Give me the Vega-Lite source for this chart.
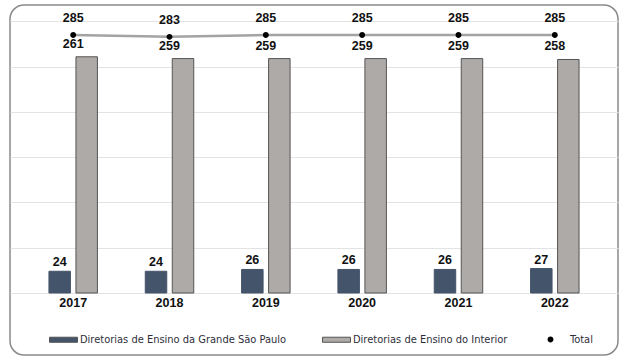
{
  "$schema": "https://vega.github.io/schema/vega-lite/v6.json",
  "width": 608,
  "height": 350,
  "autosize": "none",
  "padding": {"left": 10, "top": 5, "right": 10, "bottom": 8},
  "background": "white",
  "config": {
    "view": {"stroke": "#8a8a8a", "strokeWidth": 1.5, "cornerRadius": 14},
    "font": "Liberation Sans, sans-serif"
  },
  "data": {
    "values": [
      {"ano": "2017", "serie": "Diretorias de Ensino da Grande São Paulo", "valor": 24},
      {"ano": "2018", "serie": "Diretorias de Ensino da Grande São Paulo", "valor": 24},
      {"ano": "2019", "serie": "Diretorias de Ensino da Grande São Paulo", "valor": 26},
      {"ano": "2020", "serie": "Diretorias de Ensino da Grande São Paulo", "valor": 26},
      {"ano": "2021", "serie": "Diretorias de Ensino da Grande São Paulo", "valor": 26},
      {"ano": "2022", "serie": "Diretorias de Ensino da Grande São Paulo", "valor": 27},
      {"ano": "2017", "serie": "Diretorias de Ensino do Interior", "valor": 261},
      {"ano": "2018", "serie": "Diretorias de Ensino do Interior", "valor": 259},
      {"ano": "2019", "serie": "Diretorias de Ensino do Interior", "valor": 259},
      {"ano": "2020", "serie": "Diretorias de Ensino do Interior", "valor": 259},
      {"ano": "2021", "serie": "Diretorias de Ensino do Interior", "valor": 259},
      {"ano": "2022", "serie": "Diretorias de Ensino do Interior", "valor": 258},
      {"ano": "2017", "serie": "Total", "valor": 285},
      {"ano": "2018", "serie": "Total", "valor": 283},
      {"ano": "2019", "serie": "Total", "valor": 285},
      {"ano": "2020", "serie": "Total", "valor": 285},
      {"ano": "2021", "serie": "Total", "valor": 285},
      {"ano": "2022", "serie": "Total", "valor": 285}
    ]
  },
  "encoding": {
    "x": {
      "field": "ano",
      "type": "nominal",
      "sort": null,
      "scale": {"paddingInner": 0, "paddingOuter": 0.156},
      "axis": {
        "title": null,
        "orient": "bottom",
        "offset": -62,
        "domain": false,
        "ticks": false,
        "labelAngle": 0,
        "labelFont": "Liberation Sans",
        "labelFontSize": 12.5,
        "labelFontWeight": "bold",
        "labelColor": "#111111",
        "labelPadding": 3
      }
    },
    "y": {
      "field": "valor",
      "type": "quantitative",
      "scale": {"domain": [-68.5, 318.2], "nice": false, "zero": false},
      "axis": {
        "title": null,
        "values": [0, 50, 100, 150, 200, 250, 300],
        "grid": true,
        "gridColor": "#e3e3e3",
        "gridWidth": 1,
        "domain": false,
        "ticks": false,
        "labels": false
      }
    }
  },
  "layer": [
    {
      "transform": [{"filter": "datum.serie !== 'Total'"}],
      "mark": {"type": "bar", "strokeWidth": 1},
      "encoding": {
        "xOffset": {
          "field": "serie",
          "type": "nominal",
          "scale": {"paddingInner": 0.204, "paddingOuter": 0.886}
        },
        "color": {
          "field": "serie",
          "type": "nominal",
          "scale": {
            "domain": ["Diretorias de Ensino da Grande São Paulo", "Diretorias de Ensino do Interior"],
            "range": ["#44546a", "#aeaaa7"]
          },
          "legend": {
            "orient": "none",
            "legendX": 39,
            "legendY": 320,
            "direction": "horizontal",
            "columns": 2,
            "title": null,
            "padding": 0,
            "symbolType": "M-1,-0.18H1V0.18H-1Z",
            "symbolSize": 784,
            "symbolStrokeColor": "#555555",
            "symbolStrokeWidth": 1,
            "columnPadding": 33,
            "labelOffset": 2,
            "labelFont": "DejaVu Sans Condensed",
            "labelFontSize": 11,
            "labelColor": "#2e2e3a",
            "labelLimit": 400
          }
        },
        "stroke": {
          "condition": {"test": "datum.serie === 'Diretorias de Ensino do Interior'", "value": "#555555"},
          "value": "#44546a"
        }
      }
    },
    {
      "transform": [{"filter": "datum.serie === 'Diretorias de Ensino da Grande São Paulo'"}],
      "mark": {"type": "text", "baseline": "alphabetic", "dy": -5, "fontSize": 12.5, "fontWeight": "bold", "color": "#111111"},
      "encoding": {
        "xOffset": {"field": "serie", "type": "nominal"},
        "text": {"field": "valor", "type": "quantitative"}
      }
    },
    {
      "transform": [{"filter": "datum.serie === 'Diretorias de Ensino do Interior'"}],
      "mark": {"type": "text", "baseline": "alphabetic", "dy": -9, "fontSize": 12.5, "fontWeight": "bold", "color": "#111111"},
      "encoding": {
        "text": {"field": "valor", "type": "quantitative"}
      }
    },
    {
      "transform": [{"filter": "datum.serie === 'Total'"}],
      "mark": {"type": "line", "strokeWidth": 2.5, "color": "#a3a3a3"},
      "encoding": {}
    },
    {
      "transform": [{"filter": "datum.serie === 'Total'"}],
      "mark": {"type": "point", "filled": true, "color": "#000000", "size": 35, "opacity": 1},
      "encoding": {
        "shape": {
          "field": "serie",
          "type": "nominal",
          "scale": {"range": ["M-5,0H5M1,0A1,1 0 1,1 -1,0A1,1 0 1,1 1,0Z"]},
          "legend": {
            "orient": "none",
            "legendX": 535,
            "legendY": 329,
            "title": null,
            "padding": 0,
            "symbolSize": 35,
            "symbolFillColor": "#000000",
            "symbolStrokeColor": "#9a9a9a",
            "symbolStrokeWidth": 2,
            "labelOffset": 14,
            "labelFont": "DejaVu Sans Condensed",
            "labelFontSize": 11,
            "labelColor": "#2e2e3a"
          }
        }
      }
    },
    {
      "transform": [{"filter": "datum.serie === 'Total'"}],
      "mark": {"type": "text", "baseline": "alphabetic", "dy": -13, "fontSize": 12.5, "fontWeight": "bold", "color": "#111111"},
      "encoding": {
        "text": {"field": "valor", "type": "quantitative"}
      }
    }
  ]
}
